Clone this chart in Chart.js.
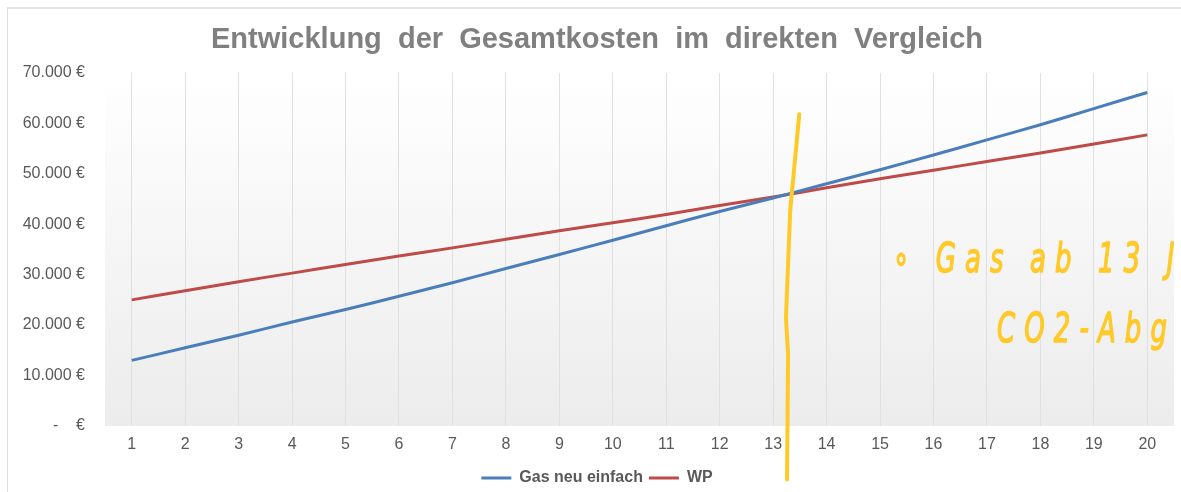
<!DOCTYPE html>
<html>
<head>
<meta charset="utf-8">
<script src="https://cdn.jsdelivr.net/npm/chart.js@4.4.1/dist/chart.umd.min.js"></script>
<style>
  html, body { margin: 0; padding: 0; background: #fff; }
  #wrap { position: relative; width: 1181px; height: 492px; overflow: hidden; }
  #frame { position: absolute; left: 7px; top: 7px; right: -10px; bottom: -10px;
           border-left: 1px solid #dcdcdc; border-top: 2px solid #e4e4e4; pointer-events: none; }
</style>
</head>
<body>
<div id="wrap">
  <canvas id="chart" width="1181" height="492"></canvas>
  <div id="frame"></div>
</div>
<script>
const years = ['1','2','3','4','5','6','7','8','9','10','11','12','13','14','15','16','17','18','19','20'];
const gasNeuEinfach = [13000, 15500, 18000, 20600, 23100, 25700, 28400, 31200, 34000, 36800,
                       39700, 42500, 45200, 48000, 50800, 53700, 56700, 59700, 62900, 66100];
const wp = [25000, 26800, 28600, 30300, 32000, 33700, 35300, 37000, 38700, 40300,
            41900, 43700, 45400, 47200, 49000, 50700, 52400, 54100, 55900, 57700];
const yMax = 70000;
const yStep = 10000;

// hand drawn marker (category index, value) and notes
const markerPath = [[12.49, 61800], [12.32, 42800], [12.24, 21400], [12.28, 14200], [12.26, -10600]];
const notes = ['\u2218 Gas ab 13 J.', 'CO2-Abg'];

const $ = (id) => document.getElementById(id);
let chart;

function euro(v){
  if(v === 0) return '-    \u20AC';
  return String(v).replace(/\B(?=(\d{3})+(?!\d))/g, '.') + ' \u20AC';
}

const areaBg = {
  id: 'areaBg',
  beforeDraw(c){
    const {ctx, chartArea: a} = c;
    const g = ctx.createLinearGradient(0, a.top, 0, a.bottom);
    g.addColorStop(0, '#ffffff');
    g.addColorStop(1, '#ececec');
    ctx.save();
    ctx.fillStyle = g;
    ctx.fillRect(a.left, a.top, a.right - a.left, a.bottom - a.top);
    ctx.restore();
  }
};

function handText(ctx, txt, x, y){
  ctx.save();
  ctx.translate(x, y);
  ctx.scale(0.65, 1);
  ctx.font = 'italic 40px "DejaVu Sans"';
  ctx.letterSpacing = '14px';
  ctx.textBaseline = 'alphabetic';
  ctx.lineWidth = 1.5;
  ctx.fillText(txt, 0, 0);
  ctx.strokeText(txt, 0, 0);
  ctx.restore();
}

const scribble = {
  id: 'scribble',
  afterDraw(c){
    const {ctx} = c;
    const xs = c.scales.x, ys = c.scales.y;
    ctx.save();
    ctx.strokeStyle = '#ffc928';
    ctx.fillStyle = '#ffc928';
    ctx.lineWidth = 4;
    ctx.lineCap = 'round';
    ctx.lineJoin = 'round';
    ctx.beginPath();
    markerPath.forEach(([i, v], k) => {
      const px = xs.getPixelForValue(i), py = ys.getPixelForValue(v);
      if(k === 0) ctx.moveTo(px, py); else ctx.lineTo(px, py);
    });
    ctx.stroke();
    handText(ctx, notes[0], 893, 272);
    handText(ctx, notes[1], 997, 342);
    ctx.restore();
  }
};

chart = new Chart($('chart'), {
  type: 'line',
  data: {
    labels: years,
    datasets: [
      { label: 'Gas neu einfach', data: gasNeuEinfach, borderColor: '#4a7ebb', backgroundColor: '#4a7ebb',
        borderWidth: 3, pointRadius: 0, pointStyle: 'line', tension: 0.3 },
      { label: 'WP', data: wp, borderColor: '#be4b48', backgroundColor: '#be4b48',
        borderWidth: 3, pointRadius: 0, pointStyle: 'line', tension: 0.3 }
    ]
  },
  options: {
    responsive: false,
    animation: false,
    layout: { padding: { left: 20, right: 7, top: 0, bottom: -4 } },
    plugins: {
      title: {
        display: true,
        text: 'Entwicklung  der  Gesamtkosten  im  direkten  Vergleich',
        color: '#808080',
        font: { family: 'Liberation Sans', size: 29, weight: 'bold' },
        padding: { top: 23, bottom: 15 }
      },
      legend: {
        position: 'bottom',
        labels: {
          color: '#595959',
          font: { family: 'Liberation Sans', size: 16, weight: 'bold' },
          usePointStyle: true,
          pointStyleWidth: 30,
          boxHeight: 16,
          padding: 6
        }
      },
      tooltip: { enabled: false }
    },
    scales: {
      x: {
        offset: true,
        grid: { offset: false, color: '#e0e0e0', drawTicks: false },
        border: { display: false },
        ticks: { color: '#595959', font: { family: 'Liberation Sans', size: 16 }, padding: 9, maxRotation: 0 },
        afterFit: (s) => { s.height = 38; }
      },
      y: {
        min: 0,
        max: yMax,
        grid: { display: false, drawTicks: false },
        border: { display: false },
        ticks: { stepSize: yStep, color: '#595959', font: { family: 'Liberation Sans', size: 16 }, padding: 20,
                 callback: (v) => euro(v) },
        afterFit: (s) => { s.width = 85; }
      }
    }
  },
  plugins: [areaBg, scribble]
});
</script>
</body>
</html>
